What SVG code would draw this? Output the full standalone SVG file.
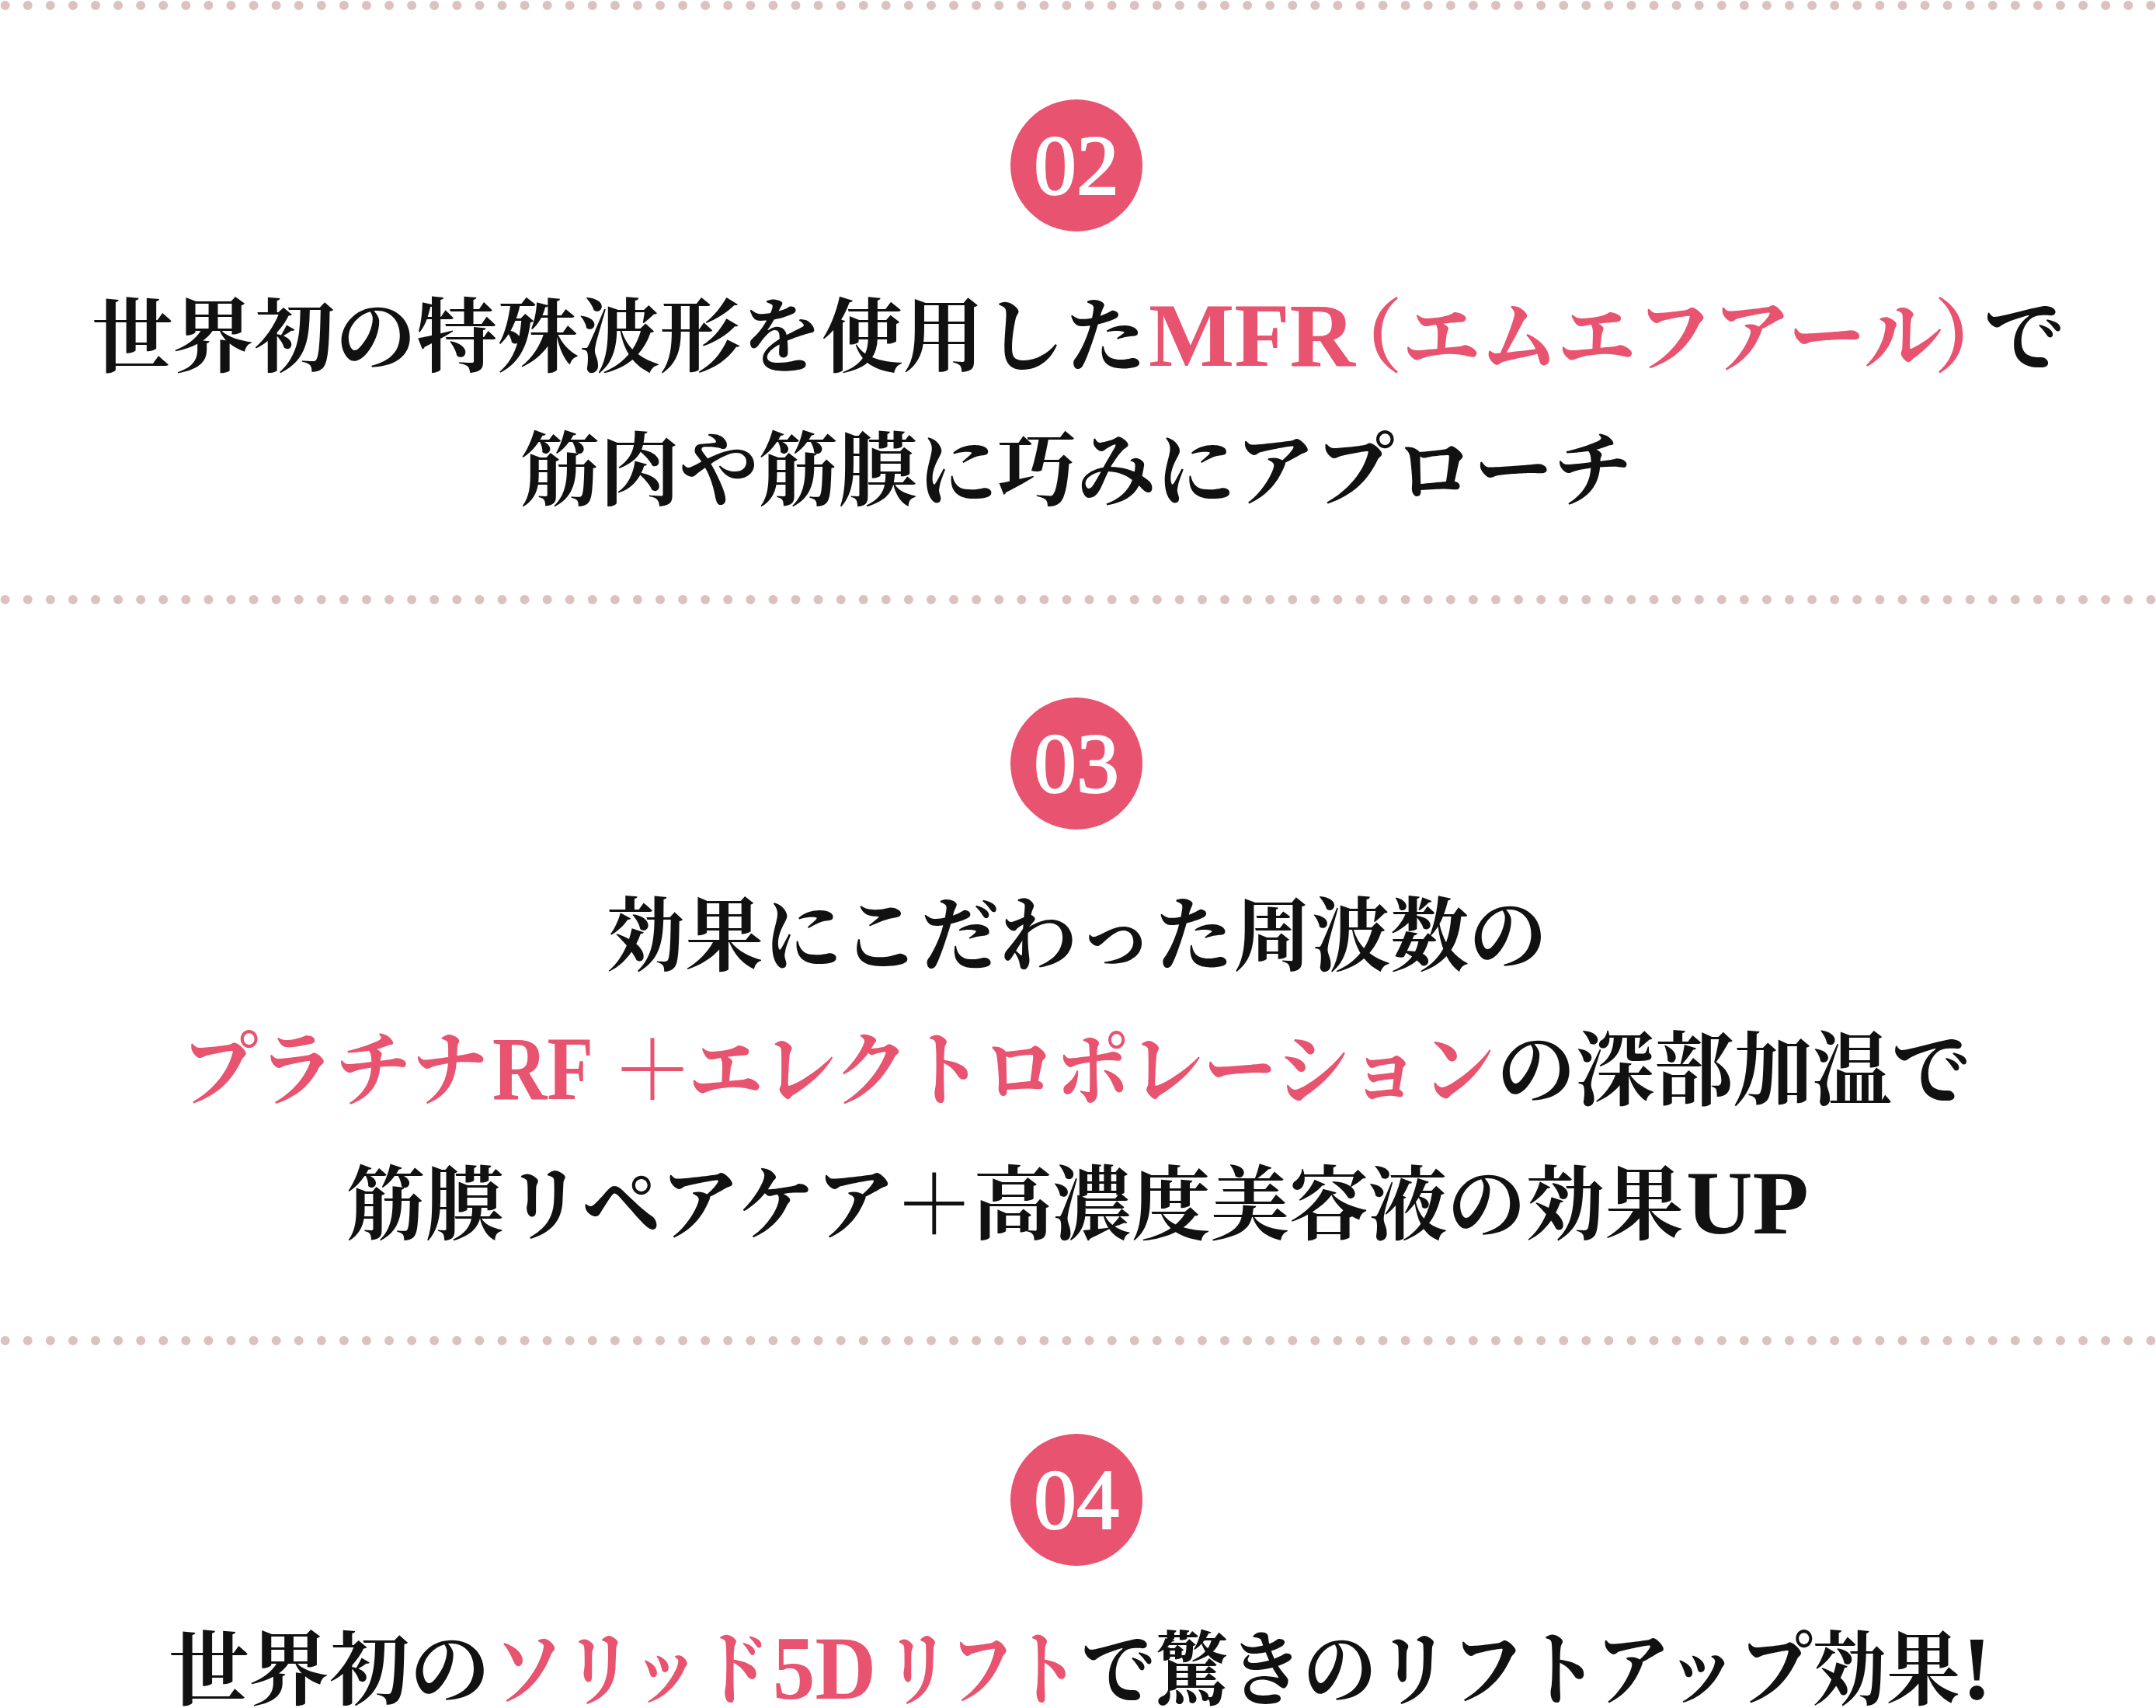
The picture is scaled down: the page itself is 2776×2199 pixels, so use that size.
<svg xmlns="http://www.w3.org/2000/svg" width="2776" height="2199" viewBox="0 0 2776 2199">
<style>
.dots{stroke:#dbc2c0;stroke-width:12;stroke-linecap:round;stroke-dasharray:0 29.08;fill:none}
.badge{fill:#e8536f}
.num{font-family:"Liberation Serif","Times New Roman",serif;font-weight:normal;font-size:110px;fill:#fff;text-anchor:middle;stroke:#fff;stroke-width:2}
.jp{font-family:"Noto Serif CJK JP","Noto Sans CJK JP",serif;font-weight:700;font-size:104px;fill:#111}
.lat{font-family:"Liberation Serif","Times New Roman",serif;font-weight:bold;font-size:116px;fill:#111}
.pk{fill:#e8536f}
</style>
<rect width="2776" height="2199" fill="#fff"/>
<g id="dividers">
<line class="dots" x1="6.7" y1="7" x2="2776" y2="7"/>
<line class="dots" x1="6.7" y1="772" x2="2776" y2="772"/>
<line class="dots" x1="6.7" y1="1726" x2="2776" y2="1726"/>
</g>
<g id="item-02">
<circle class="badge" cx="1386" cy="213" r="85"/>
<text class="num" x="1386" y="250">02</text>
<text class="jp" x="118" y="471" textLength="1358" lengthAdjust="spacingAndGlyphs">世界初の特殊波形を使用した</text>
<text class="lat pk" x="1479" y="471" textLength="266" lengthAdjust="spacingAndGlyphs">MFR</text>
<text class="jp pk" x="1702" y="471">（</text>
<text class="jp pk" x="1806" y="471" textLength="694" lengthAdjust="spacingAndGlyphs">エムエフアール</text>
<text class="jp pk" x="2490" y="471">）</text>
<text class="jp" x="2554" y="471">で</text>
<text class="jp" x="670" y="643" textLength="1432" lengthAdjust="spacingAndGlyphs">筋肉や筋膜に巧みにアプローチ</text>
</g>
<g id="item-03">
<circle class="badge" cx="1386" cy="983" r="85"/>
<text class="num" x="1386" y="1020">03</text>
<text class="jp" x="781" y="1242" textLength="1211" lengthAdjust="spacingAndGlyphs">効果にこだわった周波数の</text>
<text class="jp pk" x="233" y="1415" textLength="396" lengthAdjust="spacingAndGlyphs">プラチナ</text>
<text class="lat pk" x="634" y="1415" textLength="130" lengthAdjust="spacingAndGlyphs">RF</text>
<text class="jp pk" x="788" y="1415">＋</text>
<text class="jp pk" x="887" y="1415" textLength="1038" lengthAdjust="spacingAndGlyphs">エレクトロポレーション</text>
<text class="jp" x="1927" y="1415" textLength="610" lengthAdjust="spacingAndGlyphs">の深部加温で</text>
<text class="jp" x="446" y="1588" textLength="1722" lengthAdjust="spacingAndGlyphs">筋膜リペアケア＋高濃度美容液の効果</text>
<text class="lat" x="2171" y="1588" textLength="158" lengthAdjust="spacingAndGlyphs">UP</text>
</g>
<g id="item-04">
<circle class="badge" cx="1386" cy="1931" r="85"/>
<text class="num" x="1386" y="1968">04</text>
<text class="jp" x="217" y="2187" textLength="414" lengthAdjust="spacingAndGlyphs">世界初の</text>
<text class="jp pk" x="636" y="2187" textLength="356" lengthAdjust="spacingAndGlyphs">ソリッド</text>
<text class="lat pk" x="995" y="2187" textLength="133" lengthAdjust="spacingAndGlyphs">5D</text>
<text class="jp pk" x="1140" y="2187" textLength="248" lengthAdjust="spacingAndGlyphs">リフト</text>
<text class="jp" x="1392" y="2187" textLength="1132" lengthAdjust="spacingAndGlyphs">で驚きのリフトアップ効果</text>
<text class="lat" x="2526" y="2187">!</text>
</g>
</svg>
